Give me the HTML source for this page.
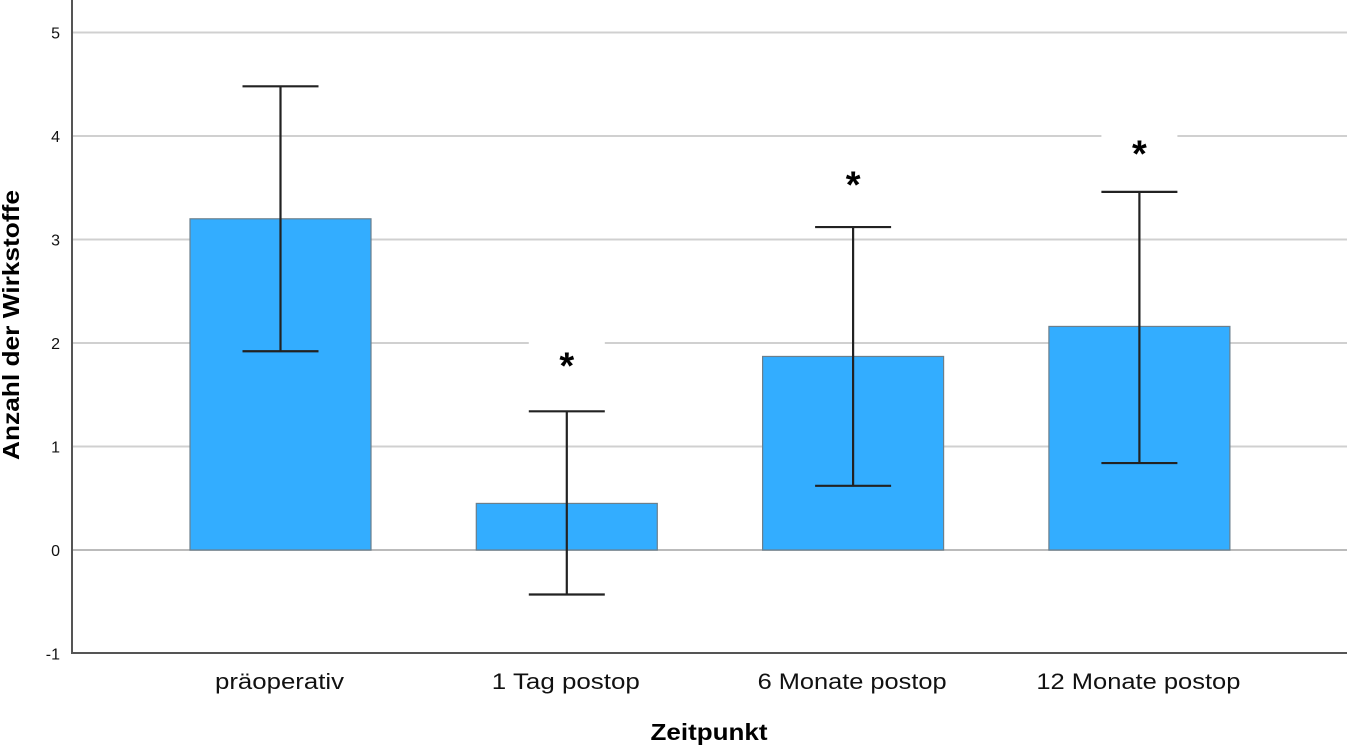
<!DOCTYPE html>
<html><head><meta charset="utf-8"><style>
body{margin:0;background:#fff;}
svg text{font-family:"Liberation Sans",sans-serif;}
</style></head><body>
<svg id="chart" width="1347" height="746" xmlns="http://www.w3.org/2000/svg">
<g id="grid"></g><g id="bars"></g><g id="axes"></g>
<text x="709" y="740" font-size="23" font-weight="bold" text-anchor="middle" textLength="117" lengthAdjust="spacingAndGlyphs">Zeitpunkt</text>
<text transform="translate(19,325) rotate(-90)" font-size="23" font-weight="bold" text-anchor="middle" textLength="270" lengthAdjust="spacingAndGlyphs">Anzahl der Wirkstoffe</text>
</svg>
<script>
const categories=["präoperativ","1 Tag postop","6 Monate postop","12 Monate postop"];
const means=[3.2,0.45,1.87,2.16];
const errHigh=[4.48,1.34,3.12,3.46];
const errLow=[1.92,-0.43,0.62,0.84];
const signif=[false,true,true,true];
const sigPos=[0,1.85,3.6,3.9];
const yTicks=[-1,0,1,2,3,4,5];
const labelLen={"präoperativ":129,"1 Tag postop":148,"6 Monate postop":189,"12 Monate postop":204};
const NS="http://www.w3.org/2000/svg";
function y(v){return 550-v*103.5;}
function x(i){return 280.5+i*286.3;}
function mk(tag,attrs,parent){const e=document.createElementNS(NS,tag);for(const k in attrs)e.setAttribute(k,attrs[k]);document.getElementById(parent).appendChild(e);return e;}
yTicks.forEach(t=>{
  if(t>-1){const l=mk('line',{x1:72,x2:1347,y1:y(t),y2:y(t),stroke:t===0?'#bbb':'#d0d0d0','stroke-width':2},'grid');
  
  }
  const tx=mk('text',{x:60,y:y(t)+6,'font-size':16,'text-anchor':'end',fill:'#111'},'axes');tx.textContent=t;
  
  
});
const bw=181,cw=76;
categories.forEach((c,i)=>{
  const cx=x(i);
  const r=mk('rect',{x:cx-bw/2,y:y(means[i]),width:bw,height:y(0)-y(means[i]),fill:'#33adff',stroke:'#6b7f8c','stroke-width':1.2},'bars');
  
  
  const g=mk('path',{d:`M${cx},${y(errHigh[i])}V${y(errLow[i])}M${cx-cw/2},${y(errHigh[i])}H${cx+cw/2}M${cx-cw/2},${y(errLow[i])}H${cx+cw/2}`,stroke:'#222','stroke-width':2.2,fill:'none'},'bars');
  
  
  if(signif[i]){
    const b=mk('rect',{x:cx-38,y:y(sigPos[i])-24,width:76,height:34,fill:'#fff'},'bars');
    
    
    const s=mk('text',{x:cx,y:y(sigPos[i])+20,'font-size':38,'font-weight':'bold','text-anchor':'middle',fill:'#000'},'bars');s.textContent='*';
    
    
  }
  const t=mk('text',{x:cx-1,y:689,'font-size':22,'text-anchor':'middle',fill:'#111',textLength:labelLen[c]||Math.round(c.length*12),lengthAdjust:'spacingAndGlyphs'},'axes');t.textContent=c;
  
  
});
const ax=mk('path',{d:'M72,0V653H1347',stroke:'#555','stroke-width':2,fill:'none'},'axes');


</script>
</body></html>
